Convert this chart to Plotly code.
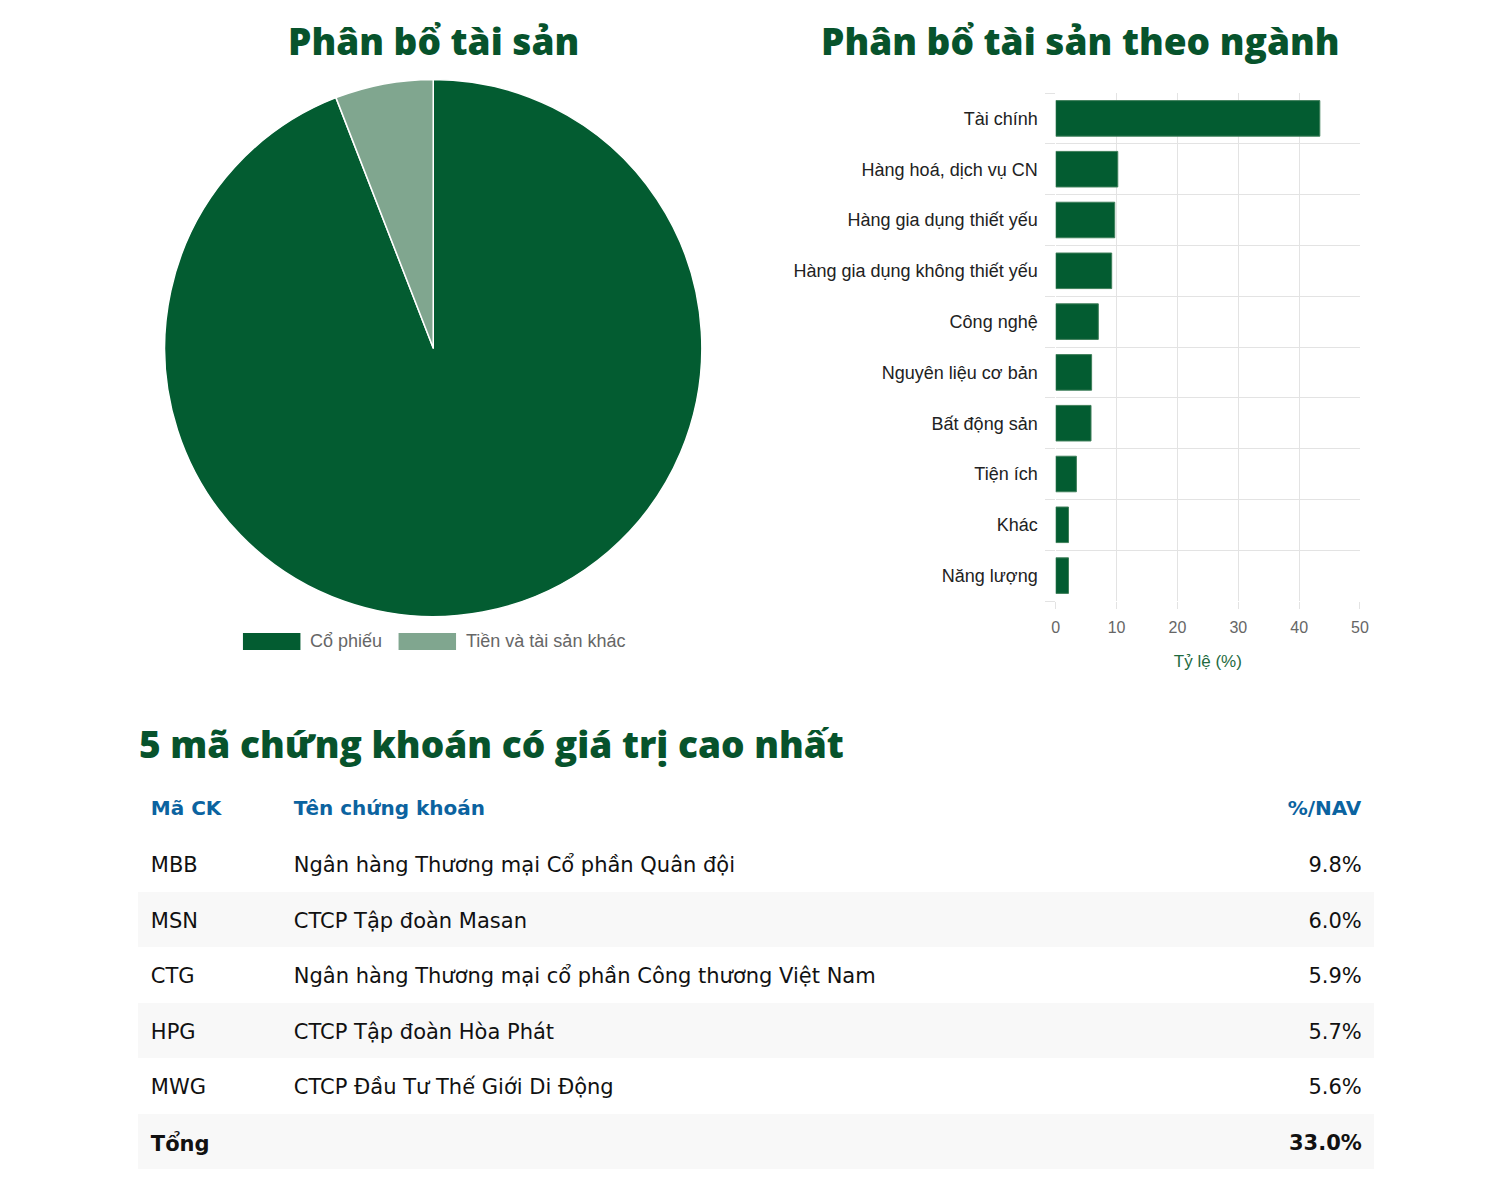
import plotly.graph_objects as go

# ---------------- data ----------------
alloc_labels = ["Cổ phiếu", "Tiền và tài sản khác"]
alloc_values = [94.1, 5.9]
alloc_colors = ["#035c31", "#80a68f"]

sector_names = ["Tài chính", "Hàng hoá, dịch vụ CN", "Hàng gia dụng thiết yếu",
                "Hàng gia dụng không thiết yếu", "Công nghệ", "Nguyên liệu cơ bản",
                "Bất động sản", "Tiện ích", "Khác", "Năng lượng"]
sector_values = [43.4, 10.2, 9.7, 9.2, 7.0, 5.9, 5.8, 3.4, 2.1, 2.1]
x_ticks = [0, 10, 20, 30, 40, 50]

tickers = ["MBB", "MSN", "CTG", "HPG", "MWG"]
stock_names = ["Ngân hàng Thương mại Cổ phần Quân đội",
               "CTCP Tập đoàn Masan",
               "Ngân hàng Thương mại cổ phần Công thương Việt Nam",
               "CTCP Tập đoàn Hòa Phát",
               "CTCP Đầu Tư Thế Giới Di Động"]
nav_pct = [9.8, 6.0, 5.9, 5.7, 5.6]
table_headers = ["Mã CK", "Tên chứng khoán", "%/NAV"]
total_label = "Tổng"

# ---------------- styles ----------------
OFF = 8                      # browser body margin
W, H = 1488 - 2 * OFF, 1198 - 2 * OFF
GREEN = "#035c31"
TITLE_GREEN = "#07532c"
BLUE = "#0b63a0"
GRID = "#e3e3e3"
HEAD_FONT = "Open Sans"
TABLE_FONT = "DejaVu Sans"
LABEL_FONT = "Liberation Sans"


def px(x):
    return (x - OFF) / W


def py(y):
    return 1 - (y - OFF) / H


fig = go.Figure()

# Pie
fig.add_trace(go.Pie(
    labels=alloc_labels, values=alloc_values, sort=False, direction="clockwise",
    rotation=0, textinfo="none", hoverinfo="label+percent",
    marker=dict(colors=alloc_colors, line=dict(color="white", width=1.5)),
    domain=dict(x=[px(162), px(704)], y=[py(619), py(77)]),
    showlegend=False,
))

# Bars
n = len(sector_names)
fig.add_trace(go.Bar(
    x=sector_values, y=list(range(n)), orientation="h",
    marker=dict(color=GREEN, line=dict(color="#3f7f5a", width=1)),
    width=0.7, showlegend=False, xaxis="x", yaxis="y",
))

fig.update_layout(
    width=W, height=H, autosize=False,
    margin=dict(l=0, r=0, t=0, b=0),
    paper_bgcolor="white", plot_bgcolor="white",
    xaxis=dict(
        domain=[px(1061), px(1368)], range=[0, 50], tickmode="array", tickvals=x_ticks,
        showgrid=True, gridcolor=GRID, gridwidth=1, zeroline=False,
        ticks="outside", ticklen=7, tickcolor=GRID, showline=False,
        ticklabelstandoff=5,
        tickfont=dict(family=LABEL_FONT, size=16, color="#666666"),
        title=dict(text="Tỷ lệ (%)", font=dict(family=LABEL_FONT, size=17, color="#1f6b3f"), standoff=19),
        anchor="y", fixedrange=True,
    ),
    yaxis=dict(
        domain=[py(601), py(93)], range=[n - 0.5, -0.5], tickmode="array",
        tickvals=list(range(n)), ticktext=sector_names, showgrid=False, zeroline=False,
        ticks="", ticklabelstandoff=17,
        tickfont=dict(family=LABEL_FONT, size=18, color="#222222"),
        minor=dict(tickmode="array", tickvals=[i - 0.5 for i in range(n + 1)],
                   ticks="outside", ticklen=10, tickcolor=GRID, showgrid=True,
                   gridcolor=GRID, gridwidth=1),
        anchor="x", fixedrange=True,
    ),
)

# Table: background layer (row stripes) and text layer
n_rows = len(tickers) + 1
fill_cols = ["white" if i % 2 == 0 else "#f8f8f8" for i in range(n_rows)]
fig.add_trace(go.Table(
    domain=dict(x=[px(135), px(1383)], y=[0.0, py(780)]),
    header=dict(values=["", "", ""], fill=dict(color="white"),
                line=dict(color="white", width=0), height=56),
    cells=dict(values=[[""] * n_rows] * 3, fill=dict(color=[fill_cols] * 3),
               line=dict(color="rgba(0,0,0,0)", width=0), height=55.5),
))

col1 = [f"<span>{t}</span>" for t in tickers] + [f"<b>{total_label}</b>"]
col2 = [f"<span>{s}</span>" for s in stock_names] + ["<span> </span>"]
col3 = [f"<span>{v:.1f}%</span>" for v in nav_pct] + [f"<b>{sum(nav_pct):.1f}%</b>"]
fig.add_trace(go.Table(
    domain=dict(x=[px(140), px(1378)], y=[0.0, py(788)]),
    columnwidth=[143, 900, 184],
    header=dict(
        values=[f"<b>{h}</b>" for h in table_headers],
        align=["left", "left", "right"],
        fill=dict(color="rgba(0,0,0,0)"), line=dict(color="rgba(0,0,0,0)", width=0),
        font=dict(family=TABLE_FONT, size=20, color=BLUE), height=57,
    ),
    cells=dict(
        values=[col1, col2, col3],
        align=["left", "left", "right"],
        fill=dict(color="rgba(0,0,0,0)"), line=dict(color="rgba(0,0,0,0)", width=0),
        font=dict(family=TABLE_FONT, size=21, color="#111111"), height=55.5,
    ),
))

# Titles
titles = [("Phân bổ tài sản", 433, 40, "center"),
          ("Phân bổ tài sản theo ngành", 1086, 40, "center"),
          ("5 mã chứng khoán có giá trị cao nhất", 134, 743, "left")]
for text, x, y, anc in titles:
    fig.add_annotation(text=text, x=px(x), y=py(y), xref="paper", yref="paper",
                       xanchor=anc, yanchor="middle", showarrow=False,
                       font=dict(family=HEAD_FONT, size=37, weight=800, color=TITLE_GREEN))

# Pie legend (swatches + labels)
leg_x = [241, 398]
for lab, col, lx in zip(alloc_labels, alloc_colors, leg_x):
    fig.add_shape(type="rect", xref="paper", yref="paper",
                  x0=px(lx), x1=px(lx + 58), y0=py(650), y1=py(633),
                  fillcolor=col, line=dict(width=0))
    fig.add_annotation(text=lab, x=px(lx + 66), y=py(641), xref="paper", yref="paper",
                       xanchor="left", yanchor="middle", showarrow=False,
                       font=dict(family=LABEL_FONT, size=18, color="#666666"))

fig.write_html("out.html")
